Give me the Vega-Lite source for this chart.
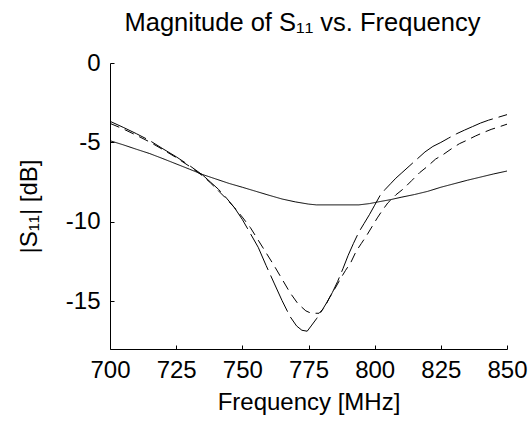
{
  "$schema": "https://vega.github.io/schema/vega-lite/v6.json",
  "autosize": "none",
  "width": 397,
  "height": 286,
  "padding": {"left": 110, "top": 63, "right": 24, "bottom": 77},
  "background": "white",
  "title": {
    "text": "Magnitude of S₁₁ vs. Frequency",
    "font": "Liberation Sans",
    "fontSize": 25.5,
    "fontWeight": "normal",
    "color": "black",
    "anchor": "middle",
    "frame": "group",
    "baseline": "alphabetic",
    "offset": -5,
    "dx": -6
  },
  "config": {
    "view": {"stroke": null},
    "axis": {
      "grid": false,
      "domainColor": "black",
      "domainWidth": 1,
      "tickColor": "black",
      "tickSize": -4,
      "labelColor": "black",
      "titleColor": "black",
      "labelFont": "Liberation Sans",
      "titleFont": "Liberation Sans",
      "labelFontSize": 24,
      "titleFontSize": 24,
      "titleFontWeight": "normal"
    }
  },
  "data": {
    "values": [
      {"series": "A", "f": 700, "s11": -4.89},
      {"series": "A", "f": 705, "s11": -5.15},
      {"series": "A", "f": 710, "s11": -5.43},
      {"series": "A", "f": 715, "s11": -5.7},
      {"series": "A", "f": 720, "s11": -6.02},
      {"series": "A", "f": 725, "s11": -6.35},
      {"series": "A", "f": 730, "s11": -6.68},
      {"series": "A", "f": 735, "s11": -7.02},
      {"series": "A", "f": 740, "s11": -7.3},
      {"series": "A", "f": 745, "s11": -7.58},
      {"series": "A", "f": 750, "s11": -7.82},
      {"series": "A", "f": 755, "s11": -8.07},
      {"series": "A", "f": 760, "s11": -8.32},
      {"series": "A", "f": 765, "s11": -8.56},
      {"series": "A", "f": 770, "s11": -8.74},
      {"series": "A", "f": 775, "s11": -8.88},
      {"series": "A", "f": 778, "s11": -8.93},
      {"series": "A", "f": 785, "s11": -8.93},
      {"series": "A", "f": 794, "s11": -8.93},
      {"series": "A", "f": 798, "s11": -8.85},
      {"series": "A", "f": 802, "s11": -8.72},
      {"series": "A", "f": 806, "s11": -8.6},
      {"series": "A", "f": 810, "s11": -8.45},
      {"series": "A", "f": 815, "s11": -8.28},
      {"series": "A", "f": 820, "s11": -8.08},
      {"series": "A", "f": 825, "s11": -7.82},
      {"series": "A", "f": 830, "s11": -7.6},
      {"series": "A", "f": 835, "s11": -7.38},
      {"series": "A", "f": 840, "s11": -7.18},
      {"series": "A", "f": 845, "s11": -6.98},
      {"series": "A", "f": 850, "s11": -6.8},

      {"series": "B", "f": 700, "s11": -3.67},
      {"series": "B", "f": 705, "s11": -4.05},
      {"series": "B", "f": 710, "s11": -4.45},
      {"series": "B", "f": 715, "s11": -4.88},
      {"series": "B", "f": 720, "s11": -5.4},
      {"series": "B", "f": 725, "s11": -5.9},
      {"series": "B", "f": 730, "s11": -6.45},
      {"series": "B", "f": 735, "s11": -7.05},
      {"series": "B", "f": 738, "s11": -7.5},
      {"series": "B", "f": 741, "s11": -7.95},
      {"series": "B", "f": 744, "s11": -8.5},
      {"series": "B", "f": 747, "s11": -9.1},
      {"series": "B", "f": 750, "s11": -9.85},
      {"series": "B", "f": 753, "s11": -10.72},
      {"series": "B", "f": 756, "s11": -11.6},
      {"series": "B", "f": 759, "s11": -12.75},
      {"series": "B", "f": 762, "s11": -13.85},
      {"series": "B", "f": 765, "s11": -14.95},
      {"series": "B", "f": 768, "s11": -15.95},
      {"series": "B", "f": 770.5, "s11": -16.55},
      {"series": "B", "f": 772.5, "s11": -16.82},
      {"series": "B", "f": 774.5, "s11": -16.88},
      {"series": "B", "f": 776, "s11": -16.55},
      {"series": "B", "f": 778, "s11": -16.1},
      {"series": "B", "f": 780, "s11": -15.6},
      {"series": "B", "f": 782, "s11": -15.05},
      {"series": "B", "f": 784, "s11": -14.45},
      {"series": "B", "f": 786, "s11": -13.75},
      {"series": "B", "f": 788, "s11": -12.95},
      {"series": "B", "f": 790, "s11": -12.1},
      {"series": "B", "f": 792, "s11": -11.35},
      {"series": "B", "f": 794, "s11": -10.65},
      {"series": "B", "f": 796, "s11": -10.1},
      {"series": "B", "f": 798, "s11": -9.55},
      {"series": "B", "f": 800, "s11": -8.95},
      {"series": "B", "f": 802, "s11": -8.35},
      {"series": "B", "f": 804, "s11": -7.95},
      {"series": "B", "f": 806, "s11": -7.6},
      {"series": "B", "f": 808, "s11": -7.25},
      {"series": "B", "f": 810, "s11": -6.95},
      {"series": "B", "f": 813, "s11": -6.5},
      {"series": "B", "f": 816, "s11": -6.05},
      {"series": "B", "f": 819, "s11": -5.6},
      {"series": "B", "f": 822, "s11": -5.25},
      {"series": "B", "f": 825, "s11": -5.0},
      {"series": "B", "f": 828, "s11": -4.72},
      {"series": "B", "f": 831, "s11": -4.45},
      {"series": "B", "f": 834, "s11": -4.22},
      {"series": "B", "f": 837, "s11": -4.0},
      {"series": "B", "f": 840, "s11": -3.78},
      {"series": "B", "f": 843, "s11": -3.6},
      {"series": "B", "f": 846, "s11": -3.45},
      {"series": "B", "f": 850, "s11": -3.25},

      {"series": "C", "f": 700, "s11": -3.8},
      {"series": "C", "f": 705, "s11": -4.15},
      {"series": "C", "f": 710, "s11": -4.55},
      {"series": "C", "f": 715, "s11": -4.97},
      {"series": "C", "f": 720, "s11": -5.45},
      {"series": "C", "f": 725, "s11": -5.95},
      {"series": "C", "f": 730, "s11": -6.5},
      {"series": "C", "f": 735, "s11": -7.1},
      {"series": "C", "f": 738, "s11": -7.55},
      {"series": "C", "f": 741, "s11": -8.05},
      {"series": "C", "f": 744, "s11": -8.55},
      {"series": "C", "f": 747, "s11": -9.1},
      {"series": "C", "f": 750, "s11": -9.7},
      {"series": "C", "f": 753, "s11": -10.35},
      {"series": "C", "f": 756, "s11": -11.15},
      {"series": "C", "f": 759, "s11": -11.95},
      {"series": "C", "f": 762, "s11": -12.75},
      {"series": "C", "f": 765, "s11": -13.6},
      {"series": "C", "f": 768, "s11": -14.45},
      {"series": "C", "f": 771, "s11": -15.15},
      {"series": "C", "f": 774, "s11": -15.6},
      {"series": "C", "f": 776, "s11": -15.75},
      {"series": "C", "f": 779, "s11": -15.75},
      {"series": "C", "f": 781, "s11": -15.4},
      {"series": "C", "f": 783, "s11": -14.75},
      {"series": "C", "f": 785, "s11": -14.2},
      {"series": "C", "f": 787, "s11": -13.6},
      {"series": "C", "f": 789, "s11": -13.05},
      {"series": "C", "f": 791, "s11": -12.55},
      {"series": "C", "f": 793, "s11": -11.85},
      {"series": "C", "f": 795, "s11": -11.35},
      {"series": "C", "f": 797, "s11": -10.85},
      {"series": "C", "f": 799, "s11": -10.3},
      {"series": "C", "f": 801, "s11": -9.75},
      {"series": "C", "f": 803, "s11": -9.25},
      {"series": "C", "f": 805, "s11": -8.8},
      {"series": "C", "f": 808, "s11": -8.3},
      {"series": "C", "f": 811, "s11": -7.9},
      {"series": "C", "f": 814, "s11": -7.4},
      {"series": "C", "f": 817, "s11": -6.9},
      {"series": "C", "f": 820, "s11": -6.5},
      {"series": "C", "f": 823, "s11": -6.05},
      {"series": "C", "f": 826, "s11": -5.75},
      {"series": "C", "f": 829, "s11": -5.4},
      {"series": "C", "f": 832, "s11": -5.08},
      {"series": "C", "f": 835, "s11": -4.85},
      {"series": "C", "f": 838, "s11": -4.6},
      {"series": "C", "f": 841, "s11": -4.38},
      {"series": "C", "f": 844, "s11": -4.18},
      {"series": "C", "f": 847, "s11": -4.02},
      {"series": "C", "f": 850, "s11": -3.85}
    ]
  },
  "mark": {"type": "line", "color": "black", "strokeWidth": 1, "clip": true},
  "encoding": {
    "x": {
      "field": "f",
      "type": "quantitative",
      "scale": {"domain": [700, 850], "nice": false, "zero": false},
      "axis": {
        "title": "Frequency [MHz]",
        "values": [700, 725, 750, 775, 800, 825, 850],
        "labelFlush": false,
        "labelPadding": 13,
        "titlePadding": 8
      }
    },
    "y": {
      "field": "s11",
      "type": "quantitative",
      "scale": {"domain": [-18, 0], "nice": false, "zero": false},
      "axis": {
        "title": "|S₁₁| [dB]",
        "values": [0, -5, -10, -15],
        "labelExpr": "replace(datum.label, '−', '-')",
        "labelPadding": 14,
        "titlePadding": 24
      }
    },
    "strokeDash": {
      "field": "series",
      "type": "nominal",
      "scale": {"domain": ["A", "B", "C"], "range": [[1, 0], [40, 6], [10, 6]]},
      "legend": null
    }
  }
}
